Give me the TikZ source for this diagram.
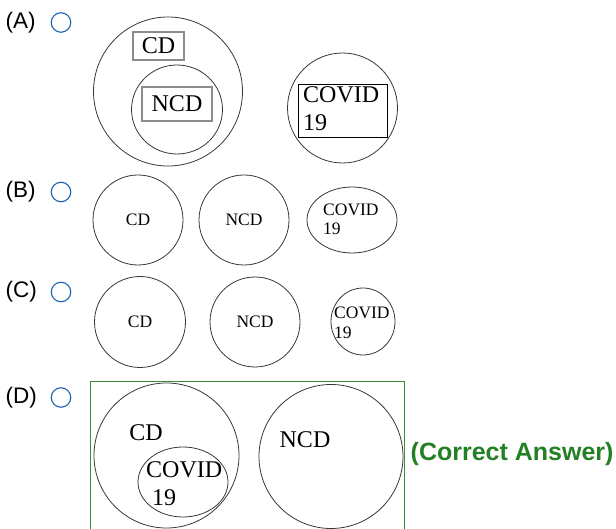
\documentclass[tikz,border=0pt]{standalone}
\usepackage{fontspec}
\setmainfont{Liberation Serif}
\newfontfamily\labelfont{Liberation Sans}
\definecolor{radioblue}{RGB}{28,98,176}
\definecolor{ansgreen}{RGB}{36,128,36}
\definecolor{boxgreen}{RGB}{60,140,60}
\definecolor{venngray}{RGB}{55,55,55}
\definecolor{lightbox}{RGB}{140,140,140}
\begin{document}
\begin{tikzpicture}[x=1pt,y=-1pt,
  radio/.style={circle,draw=radioblue,line width=1.1pt,minimum size=19.5pt,inner sep=0pt},
  optlabel/.style={anchor=west,inner sep=0pt,font=\labelfont\fontsize{22.5}{26}\selectfont},
  venn/.style={draw=venngray,line width=0.8pt},
  bigtxt/.style={inner sep=0pt,font=\fontsize{24}{28}\selectfont},
  smalltxt/.style={inner sep=0pt,font=\fontsize{17.5}{20}\selectfont},
  graybox/.style={draw=lightbox,line width=1.3pt,inner sep=0pt},
  blackbox/.style={draw=black,line width=0.9pt,inner sep=0pt}]
\useasboundingbox (0,0) rectangle (616,529);
% ---------- (A)
\node[optlabel] (la) at (5.5,22.5) {(A)};
\node[radio] (ra) at (61,22.5) {};
\draw[venn] (168,91.5) circle[radius=74.5];
\node[graybox,minimum width=51pt,minimum height=28pt] (acdbox) at (158.5,46) {};
\node[bigtxt] (acd) at (acdbox.center) {CD};
\draw[venn] (177,109.5) ellipse[x radius=45.5,y radius=44.5];
\node[graybox,minimum width=70pt,minimum height=34pt] (ancdbox) at (177,104) {};
\node[bigtxt] (ancd) at (ancdbox.center) {NCD};
\draw[venn] (342.5,108) circle[radius=55];
\node[blackbox,minimum width=89pt,minimum height=53pt] (acovbox) at (342.5,110.5) {};
\node[bigtxt,anchor=west] (acov) at (303,95) {COVID};
\node[bigtxt,anchor=west] (a19) at (303,123) {19};
% ---------- (B)
\node[optlabel] (lb) at (5.5,192) {(B)};
\node[radio] (rb) at (61,192) {};
\draw[venn] (138,220) circle[radius=45];
\node[smalltxt] (bcd) at (138,220) {CD};
\draw[venn] (244,220) circle[radius=45];
\node[smalltxt] (bncd) at (244,220) {NCD};
\draw[venn] (352,220) ellipse[x radius=45,y radius=33];
\node[smalltxt,anchor=west] (bcov) at (323,210) {COVID};
\node[smalltxt,anchor=west] (b19) at (323,229) {19};
% ---------- (C)
\node[optlabel] (lc) at (5.5,292) {(C)};
\node[radio] (rc) at (61,292) {};
\draw[venn] (140,322) circle[radius=45.5];
\node[smalltxt] (ccd) at (140,322) {CD};
\draw[venn] (255,322) circle[radius=45];
\node[smalltxt] (cncd) at (255,322) {NCD};
\draw[venn] (363,321.5) ellipse[x radius=32,y radius=33.5];
\node[smalltxt,anchor=west] (ccov) at (334,312.5) {COVID};
\node[smalltxt,anchor=west] (c19) at (334,332.5) {19};
% ---------- (D)
\node[optlabel] (ld) at (5.5,397.5) {(D)};
\node[radio] (rd) at (61,397.5) {};
\draw[boxgreen,line width=1pt] (90.5,529) -- (90.5,381.5) -- (404.5,381.5) -- (404.5,529);
\draw[venn] (166.5,455.5) ellipse[x radius=72.5,y radius=72.5];
\node[bigtxt] (dcd) at (146,433) {CD};
\draw[venn] (183,482) ellipse[x radius=45,y radius=35];
\node[bigtxt,anchor=west] (dcov) at (146,470) {COVID};
\node[bigtxt,anchor=west] (d19) at (152,498) {19};
\draw[venn] (331,456.5) ellipse[x radius=72,y radius=72];
\node[bigtxt] (dncd) at (305,440) {NCD};
\node[anchor=west,inner sep=0pt,text=ansgreen,font=\labelfont\bfseries\fontsize{25}{29}\selectfont] (ans) at (410.5,454.5) {(Correct Answer)};
\end{tikzpicture}
\end{document}
